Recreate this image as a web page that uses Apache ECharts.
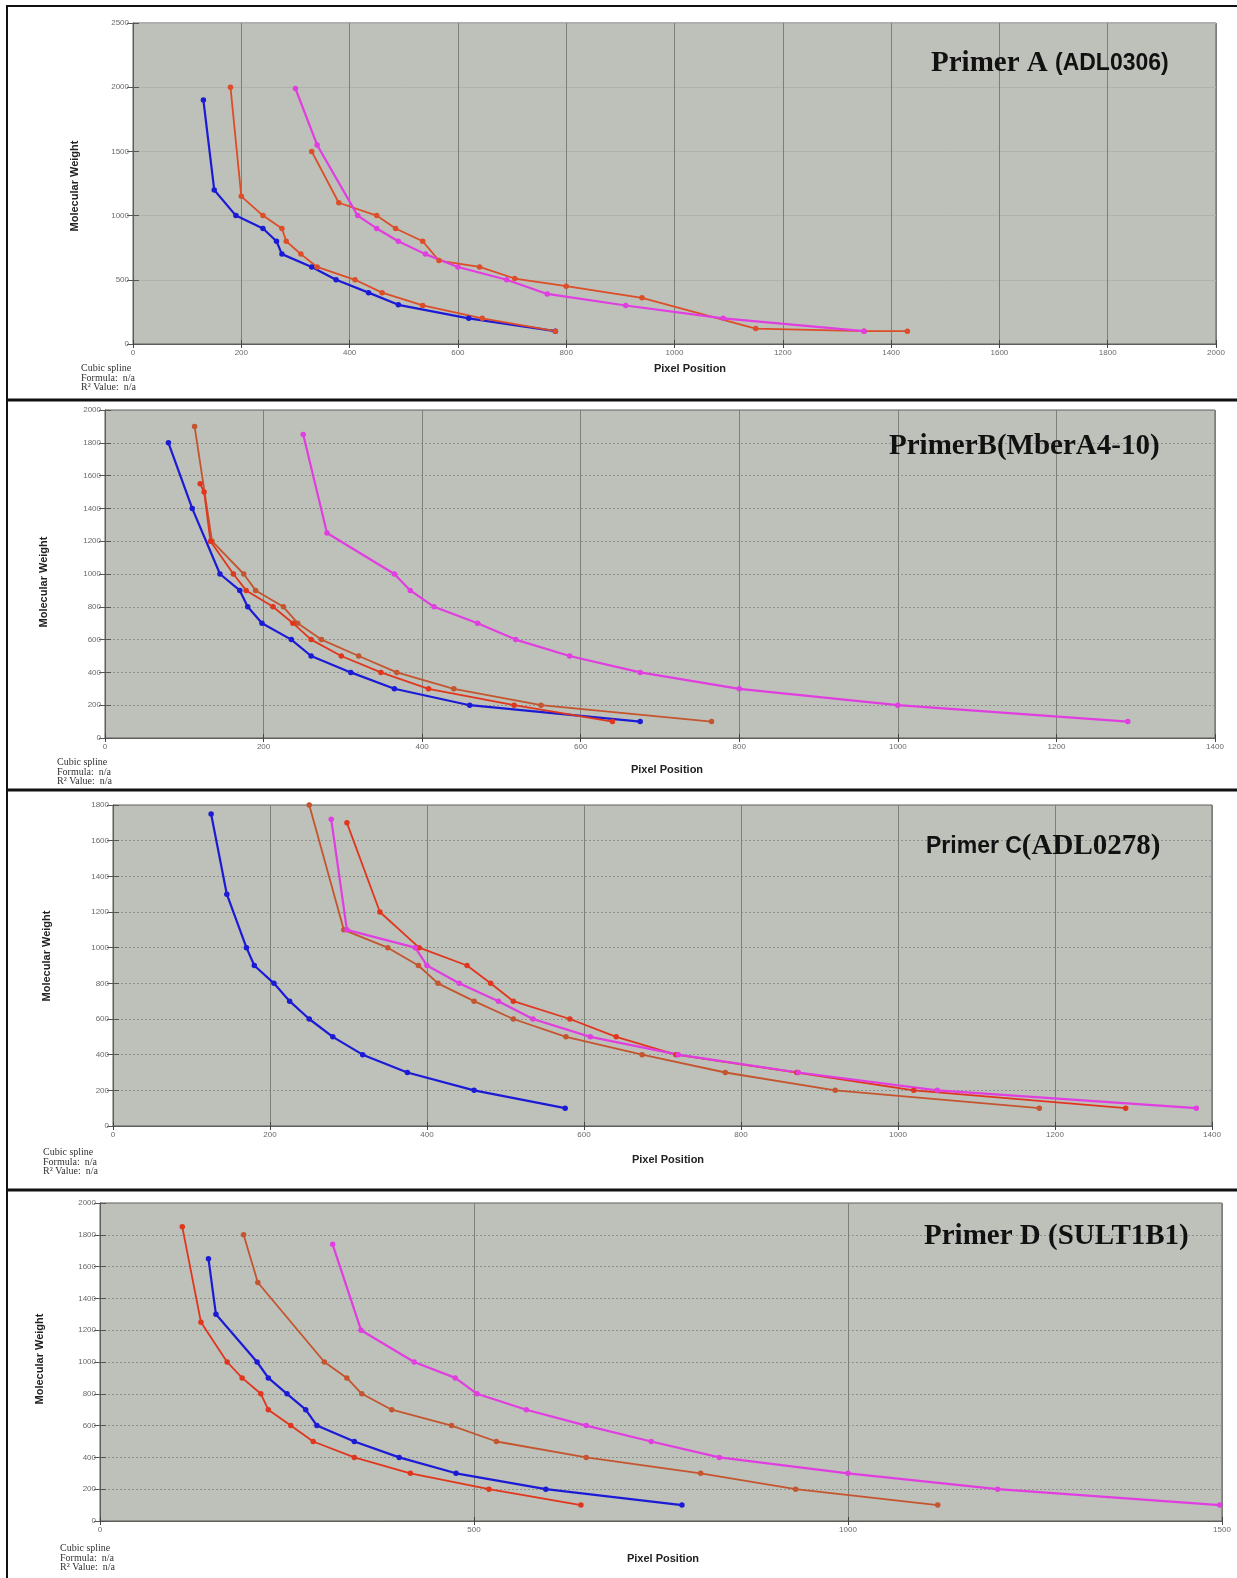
<!DOCTYPE html>
<html>
<head>
<meta charset="utf-8">
<script src="https://cdn.jsdelivr.net/npm/echarts@6/dist/echarts.min.js"></script>
<style>
html, body { margin: 0; padding: 0; background: #fff; }
#chart { width: 1237px; height: 1578px; }
</style>
</head>
<body>
<div id="chart"></div>
<script>
// values: [pixel position, molecular weight]
const aBlue = [[130,1900],[150,1200],[190,1000],[240,900],[265,800],[275,700],[330,600],[375,500],[435,400],[490,305],[620,200],[780,100]];
const aRed1 = [[180,2000],[200,1150],[240,1000],[275,900],[283,800],[310,700],[340,600],[410,500],[460,400],[535,300],[645,200],[780,100]];
const aRed2 = [[330,1500],[380,1100],[450,1000],[485,900],[535,800],[565,650],[640,600],[705,510],[800,450],[940,360],[1150,120],[1350,100],[1430,100]];
const aMagenta = [[300,1990],[340,1550],[415,1000],[450,900],[490,800],[540,700],[600,600],[690,500],[765,390],[910,300],[1090,200],[1350,100]];

const bBlue = [[80,1800],[110,1400],[145,1000],[170,900],[180,800],[198,700],[235,600],[260,500],[310,400],[365,300],[460,200],[675,100]];
const bRed1 = [[113,1900],[135,1200],[175,1000],[190,900],[225,800],[243,700],[273,600],[320,500],[368,400],[440,300],[550,200],[765,100]];
const bRed2 = [[120,1550],[125,1500],[133,1200],[162,1000],[178,900],[212,800],[237,700],[260,600],[298,500],[348,400],[408,300],[516,200],[640,100]];
const bMagenta = [[250,1850],[280,1250],[365,1000],[385,900],[415,800],[470,700],[518,600],[586,500],[675,400],[800,300],[1000,200],[1290,100]];

const cBlue = [[125,1750],[145,1300],[170,1000],[180,900],[205,800],[225,700],[250,600],[280,500],[318,400],[375,300],[460,200],[576,100]];
const cBrown = [[250,1800],[294,1100],[350,1000],[389,900],[414,800],[460,700],[510,600],[577,500],[674,400],[780,300],[920,200],[1180,100]];
const cRed = [[298,1700],[340,1200],[390,1000],[451,900],[481,800],[510,700],[582,600],[641,500],[717,400],[871,300],[1020,200],[1290,100]];
const cMagenta = [[278,1720],[298,1100],[385,1000],[400,900],[441,800],[491,700],[535,600],[608,500],[720,400],[873,300],[1050,200],[1380,100]];

const dRed = [[110,1850],[135,1250],[170,1000],[190,900],[215,800],[225,700],[255,600],[285,500],[340,400],[415,300],[520,200],[643,100]];
const dBlue = [[145,1650],[155,1300],[210,1000],[225,900],[250,800],[275,700],[290,600],[340,500],[400,400],[476,300],[596,200],[778,100]];
const dBrown = [[192,1800],[211,1500],[300,1000],[330,900],[350,800],[390,700],[470,600],[530,500],[650,400],[803,300],[930,200],[1120,100]];
const dMagenta = [[311,1740],[349,1200],[420,1000],[475,900],[504,800],[570,700],[650,600],[737,500],[828,400],[1000,300],[1200,200],[1497,100]];

const xTitle = 'Pixel Position';
const yTitle = 'Molecular Weight';
const noteLines = ['Cubic spline', 'Formula:  n/a', 'R\u00B2 Value:  n/a'];

const BLUE = '#1b1bd6';
const RED = '#e0361e';
const BROWN = '#c4552f';
const ORANGE = '#dc4d28';
const MAGENTA = '#e03ee0';

const panels = [
  {
    grid: { left: 133, top: 23, width: 1083, height: 321 },
    xMax: 2000, xStep: 200, yMax: 2500, yStep: 500, hDotted: false,
    title: { left: 926, top: 44, parts: [['serif', 'Primer A '], ['sans', '(ADL0306)']] },
    yName: [75, 186], xName: [690, 369], note: [81, 364],
    series: [[aBlue, BLUE], [aRed1, ORANGE], [aRed2, ORANGE], [aMagenta, MAGENTA]],
  },
  {
    grid: { left: 105, top: 410, width: 1110, height: 328 },
    xMax: 1400, xStep: 200, yMax: 2000, yStep: 200, hDotted: true,
    title: { left: 884, top: 427, parts: [['serif', 'PrimerB(MberA4-10)']] },
    yName: [44, 582], xName: [667, 770], note: [57, 758],
    series: [[bBlue, BLUE], [bRed1, BROWN], [bRed2, RED], [bMagenta, MAGENTA]],
  },
  {
    grid: { left: 113, top: 805, width: 1099, height: 321 },
    xMax: 1400, xStep: 200, yMax: 1800, yStep: 200, hDotted: true,
    title: { left: 921, top: 827, parts: [['sans', 'Primer '], ['sans', 'C'], ['serif', '(ADL0278)']] },
    yName: [47, 956], xName: [668, 1160], note: [43, 1148],
    series: [[cBlue, BLUE], [cBrown, BROWN], [cRed, RED], [cMagenta, MAGENTA]],
  },
  {
    grid: { left: 100, top: 1203, width: 1122, height: 318 },
    xMax: 1500, xStep: 500, yMax: 2000, yStep: 200, hDotted: true,
    title: { left: 919, top: 1217, parts: [['serif', 'Primer D (SULT1B1)']] },
    yName: [40, 1359], xName: [663, 1559], note: [60, 1544],
    series: [[dRed, RED], [dBlue, BLUE], [dBrown, BROWN], [dMagenta, MAGENTA]],
  },
];

const tickLabel = { fontSize: 8, color: '#6a6a6a', fontFamily: 'Liberation Sans', formatter: (v) => String(v) };
const axisColor = '#5c5e5a';

const grids = [];
const xAxes = [];
const yAxes = [];
const series = [];
const titles = [];
const graphics = [];

panels.forEach((p, i) => {
  grids.push(Object.assign({ show: true, backgroundColor: '#bec0ba', borderColor: axisColor, borderWidth: 1 }, p.grid));

  // bottom axis with labels, top axis only for the small inner ticks
  xAxes.push({
    type: 'value', gridIndex: i, position: 'bottom', min: 0, max: p.xMax, interval: p.xStep,
    axisLine: { show: true, lineStyle: { color: axisColor } },
    axisTick: { show: true, inside: true, length: 4, lineStyle: { color: '#444' } },
    axisLabel: Object.assign({ margin: 5 }, tickLabel),
    splitLine: { show: true, lineStyle: { color: '#7d7f7b', width: 1 } },
  });
  xAxes.push({
    type: 'value', gridIndex: i, position: 'top', min: 0, max: p.xMax, interval: p.xStep,
    axisLine: { show: true, lineStyle: { color: axisColor } },
    axisTick: { show: true, inside: true, length: 4, lineStyle: { color: '#444' } },
    axisLabel: { show: false }, splitLine: { show: false },
  });
  yAxes.push({
    type: 'value', gridIndex: i, position: 'left', min: 0, max: p.yMax, interval: p.yStep,
    axisLine: { show: true, lineStyle: { color: axisColor } },
    axisTick: { show: true, inside: true, length: 6, lineStyle: { color: '#555' } },
    axisLabel: Object.assign({ margin: 4 }, tickLabel),
    splitLine: {
      show: true,
      lineStyle: p.hDotted
        ? { color: '#8f918d', width: 1, type: [2, 2] }
        : { color: '#afb1ad', width: 1 },
    },
  });
  yAxes.push({
    type: 'value', gridIndex: i, position: 'right', min: 0, max: p.yMax, interval: p.yStep,
    axisLine: { show: true, lineStyle: { color: axisColor } },
    axisTick: { show: true, inside: true, length: 6, lineStyle: { color: '#555' } },
    axisLabel: { show: false }, splitLine: { show: false },
  });

  p.series.forEach(([data, color]) => {
    series.push({
      type: 'line', xAxisIndex: i * 2, yAxisIndex: i * 2, data: data,
      symbol: 'circle', symbolSize: 5.5, showSymbol: true,
      lineStyle: { color: color, width: color === BLUE || color === MAGENTA ? 2.2 : 1.8 },
      itemStyle: { color: color },
      emphasis: { disabled: true },
    });
  });

  // panel caption, mixing serif and sans parts as in the picture
  titles.push({
    left: p.title.left, top: p.title.top,
    text: p.title.parts.map(([k, t]) => '{' + k + '|' + t + '}').join(''),
    textStyle: {
      rich: {
        serif: { fontFamily: 'Liberation Serif', fontSize: 29, fontWeight: 'bold', color: '#111' },
        sans: { fontFamily: 'Liberation Sans Narrow, Liberation Sans', fontSize: 23, fontWeight: 'bold', color: '#111' },
      },
    },
  });

  graphics.push({
    type: 'text', x: p.yName[0], y: p.yName[1], rotation: Math.PI / 2,
    style: { text: yTitle, font: 'bold 11px "Liberation Sans Narrow", "Liberation Sans"', fill: '#222', align: 'center', verticalAlign: 'middle' },
  });
  graphics.push({
    type: 'text', x: p.xName[0], y: p.xName[1],
    style: { text: xTitle, font: 'bold 11px "Liberation Sans"', fill: '#222', align: 'center', verticalAlign: 'middle' },
  });
  graphics.push({
    type: 'text', x: p.note[0], y: p.note[1],
    style: { text: noteLines.join('\n'), font: '10px "Liberation Serif"', lineHeight: 9.5, fill: '#333' },
  });
});

// frame lines between the four panels
[[6, 2], [400, 3], [790, 3], [1190, 3]].forEach(([y, w]) => {
  graphics.push({ type: 'rect', shape: { x: 6, y: y - w / 2, width: 1231, height: w }, style: { fill: '#111' } });
});
graphics.push({ type: 'rect', shape: { x: 6, y: 5, width: 2, height: 1573 }, style: { fill: '#111' } });

const option = {
  animation: false,
  backgroundColor: '#fff',
  title: titles,
  grid: grids,
  xAxis: xAxes,
  yAxis: yAxes,
  series: series,
  graphic: graphics,
};

const dom = document.getElementById('chart');
const myChart = echarts.init(dom);
myChart.setOption(option);
window.addEventListener('resize', () => {
  myChart.resize();
});
</script>
</body>
</html>
